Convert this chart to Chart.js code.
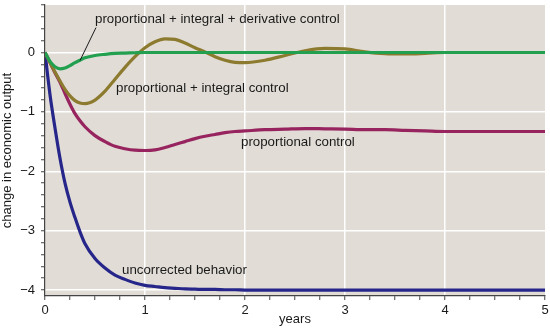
<!DOCTYPE html>
<html>
<head>
<meta charset="utf-8">
<script src="https://cdn.jsdelivr.net/npm/chart.js@4.4.1/dist/chart.umd.min.js"></script>
<style>
    html, body { margin: 0; padding: 0; background: #fff; }
    #wrap { width: 550px; height: 329px; }
</style>
</head>
<body>
<div id="wrap"><canvas id="controlChart" width="550" height="329"></canvas></div>
<script>
// sample times (years)
const years = [0, 0.05, 0.1, 0.15, 0.2, 0.25, 0.3, 0.35, 0.4, 0.5, 0.6, 0.7, 0.8, 0.9, 1.0, 1.1, 1.2, 1.3, 1.4, 1.5,
    1.6, 1.7, 1.8, 1.9, 2.0, 2.2, 2.4, 2.6, 2.8, 3.0, 3.2, 3.4, 3.6, 3.8, 4.0, 4.5, 5.0];

const pidControl = [0, -0.15, -0.24, -0.275, -0.26, -0.22, -0.17, -0.13, -0.09, -0.05, -0.03, -0.015, -0.01, -0.004, 0, 0, 0, 0, 0, 0,
    0, 0, 0, 0, 0, 0, 0, 0, 0, 0, 0, 0, 0, 0, 0, 0, 0];
const piControl = [0, -0.17, -0.33, -0.48, -0.62, -0.73, -0.81, -0.85, -0.86, -0.80, -0.65, -0.45, -0.25, -0.07, 0.08, 0.18, 0.23, 0.22, 0.16, 0.08,
    0.01, -0.07, -0.13, -0.165, -0.17, -0.13, -0.05, 0.03, 0.07, 0.06, 0.01, -0.02, -0.025, -0.015, 0, 0, 0];
const pControl = [0, -0.17, -0.34, -0.50, -0.69, -0.87, -1.03, -1.15, -1.25, -1.40, -1.50, -1.58, -1.62, -1.645, -1.65, -1.64, -1.60, -1.55, -1.50, -1.45,
    -1.41, -1.38, -1.35, -1.33, -1.32, -1.30, -1.29, -1.28, -1.285, -1.29, -1.30, -1.30, -1.31, -1.32, -1.33, -1.33, -1.33];
const uncorrected = [0, -0.71, -1.27, -1.78, -2.20, -2.52, -2.78, -3.02, -3.22, -3.47, -3.63, -3.75, -3.82, -3.88, -3.92, -3.94, -3.96, -3.97, -3.98, -3.985,
    -3.99, -3.99, -3.995, -3.995, -4.0, -4.0, -4.0, -4.0, -4.0, -4.0, -4.0, -4.0, -4.0, -4.0, -4.0, -4.0, -4.0];

const xTicks = [0, 0.25, 0.5, 0.75, 1, 1.25, 1.5, 1.75, 2, 2.25, 2.5, 2.75, 3, 3.25, 3.5, 3.75, 4, 4.25, 4.5, 4.75, 5];
const yTicks = [-4, -3.8, -3.6, -3.4, -3.2, -3, -2.8, -2.6, -2.4, -2.2, -2, -1.8, -1.6, -1.4, -1.2, -1, -0.8, -0.6, -0.4, -0.2,
    0, 0.2, 0.4, 0.6, 0.8];

// curve labels: [text, year, value] (left edge, vertical middle)
const curveLabels = [
    ["proportional + integral + derivative control", 0.50, 0.56],
    ["proportional + integral control", 0.71, -0.61],
    ["proportional control", 1.96, -1.52],
    ["uncorrected behavior", 0.77, -3.66]
];
// leader line from PID label to its curve
const leader = [[0.51, 0.42], [0.35, -0.135]];

const FONT = "'Liberation Sans', Arial, Helvetica, sans-serif";
const plotBg = "#e1ddd6";
const inkColor = "#1a1a1a";

const toPoints = vals => vals.map((v, i) => ({ x: years[i], y: v }));

const isWhole = v => Math.abs(v - Math.round(v)) < 1e-6;

const plotBackground = {
    id: "plotBackground",
    beforeDraw(chart) {
        const { ctx, chartArea: a } = chart;
        ctx.save();
        ctx.fillStyle = plotBg;
        ctx.fillRect(a.left, a.top, a.right - a.left, a.bottom - a.top);
        ctx.restore();
    }
};

const curveText = {
    id: "curveText",
    afterDraw(chart) {
        const { ctx, scales: { x, y } } = chart;
        ctx.save();
        ctx.fillStyle = inkColor;
        ctx.font = "13.3px " + FONT;
        ctx.textAlign = "left";
        ctx.textBaseline = "middle";
        curveLabels.forEach(([text, t, v]) => {
            ctx.fillText(text, x.getPixelForValue(t), y.getPixelForValue(v));
        });
        ctx.strokeStyle = inkColor;
        ctx.lineWidth = 1;
        ctx.beginPath();
        ctx.moveTo(x.getPixelForValue(leader[0][0]), y.getPixelForValue(leader[0][1]));
        ctx.lineTo(x.getPixelForValue(leader[1][0]), y.getPixelForValue(leader[1][1]));
        ctx.stroke();
        ctx.restore();
    }
};

const line = (data, color) => ({
    data: toPoints(data),
    borderColor: color,
    borderWidth: 3.2,
    pointRadius: 0,
    fill: false,
    cubicInterpolationMode: "monotone"
});

const ctx = document.getElementById("controlChart").getContext("2d");
const controlChart = new Chart(ctx, {
    type: "line",
    data: {
        datasets: [
            line(pidControl, "#22a050"),
            line(piControl, "#8c7a2e"),
            line(pControl, "#97245e"),
            line(uncorrected, "#26268a")
        ]
    },
    options: {
        responsive: false,
        animation: false,
        layout: { padding: { top: 5, right: 5, left: 0, bottom: 0 } },
        plugins: { legend: { display: false }, tooltip: { enabled: false } },
        scales: {
            x: {
                type: "linear",
                min: 0,
                max: 5,
                afterBuildTicks: s => { s.ticks = xTicks.map(v => ({ value: v })); },
                afterFit: s => { s.height = 33; s.paddingLeft = 0; s.paddingRight = 0; },
                ticks: {
                    autoSkip: false,
                    maxRotation: 0,
                    padding: 3,
                    color: inkColor,
                    font: { family: FONT, size: 13 },
                    callback: v => isWhole(v) ? String(Math.round(v)) : ""
                },
                grid: {
                    color: c => (c.tick && isWhole(c.tick.value) && c.tick.value > 0 && c.tick.value < 5) ? "#ffffff" : "rgba(0,0,0,0)",
                    lineWidth: 1.5,
                    drawTicks: true,
                    tickLength: 4,
                    tickColor: "#444",
                    tickWidth: 1
                },
                border: { display: true, color: "#444", width: 1.2 },
                title: {
                    display: true,
                    text: "years",
                    color: inkColor,
                    font: { family: FONT, size: 13 },
                    padding: { top: 0, bottom: 2 }
                }
            },
            y: {
                type: "linear",
                min: -4.1,
                max: 0.8,
                afterBuildTicks: s => { s.ticks = yTicks.map(v => ({ value: v })); },
                afterFit: s => { s.width = 45; s.paddingTop = 0; s.paddingBottom = 0; },
                ticks: {
                    autoSkip: false,
                    padding: 6,
                    color: inkColor,
                    font: { family: FONT, size: 13 },
                    callback: v => isWhole(v) ? (Math.round(v) < 0 ? "\u2212" + Math.abs(Math.round(v)) : String(Math.round(v))) : ""
                },
                grid: {
                    color: c => (c.tick && isWhole(c.tick.value)) ? "#ffffff" : "rgba(0,0,0,0)",
                    lineWidth: 1.5,
                    drawTicks: true,
                    tickLength: 4,
                    tickColor: "#444",
                    tickWidth: 1
                },
                border: { display: true, color: "#444", width: 1.2 },
                title: {
                    display: true,
                    text: "change in economic output",
                    color: inkColor,
                    font: { family: FONT, size: 13 },
                    padding: { top: 0, bottom: 0 }
                }
            }
        }
    },
    plugins: [plotBackground, curveText]
});
</script>
</body>
</html>
